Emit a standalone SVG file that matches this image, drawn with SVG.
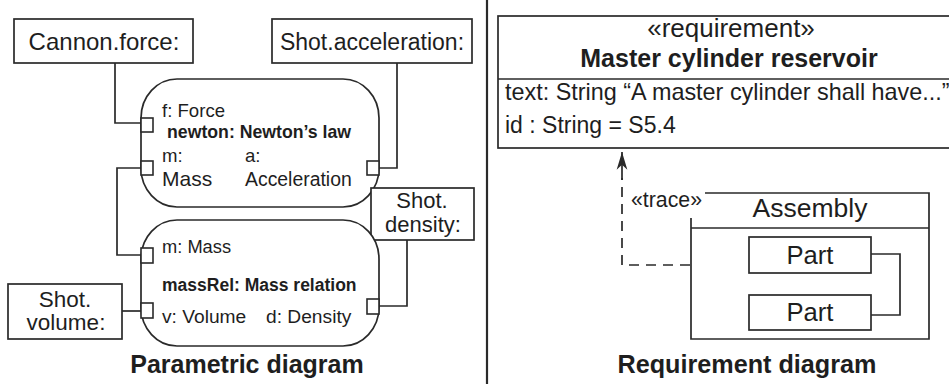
<svg xmlns="http://www.w3.org/2000/svg" width="949" height="384" viewBox="0 0 949 384">
  <defs>
    <style>
      .ln { fill: none; stroke: #2a2a2a; stroke-width: 1.7; }
      .box { fill: #ffffff; stroke: #2a2a2a; stroke-width: 1.7; }
      .port { fill: #ffffff; stroke: #2a2a2a; stroke-width: 1.6; }
      text { font-family: 'Liberation Sans', Arial, sans-serif; fill: #1e1e1e; }
      .c { text-anchor: middle; }
      .b { font-weight: bold; }
      .dash { fill: none; stroke: #2a2a2a; stroke-width: 1.7; stroke-dasharray: 10 7; }
    </style>
    <marker id="arrowHead" markerWidth="20" markerHeight="20" refX="0" refY="0" viewBox="-26 -9 28 18" orient="auto" markerUnits="userSpaceOnUse">
      <path d="M0,0 L-25,-7.5 L-18,0 L-25,7.5 Z" fill="#2a2a2a"/>
    </marker>
  </defs>

  <rect width="949" height="384" fill="#ffffff"/>

  <!-- panel divider -->
  <line x1="487" y1="0" x2="487" y2="384" stroke="#2a2a2a" stroke-width="2.2"/>

  <g id="connectors">
    <path class="ln" d="M115,63 V123 H141"/>
    <path class="ln" d="M141,168 H117 V255 H141"/>
    <path class="ln" d="M379,168 H397 V63"/>
    <path class="ln" d="M122,311 H141"/>
    <path class="ln" d="M379,306 H407 V240"/>
    <path class="ln" d="M871,254 H900 V315 H871"/>
    <path class="dash" d="M690,265 H622 V178"/>
    <path class="ln" d="M622,180 V152" marker-end="url(#arrowHead)"/>
  </g>

  <!-- ===== Parametric diagram ===== -->
  <g id="cannon-force">
    <rect class="box" x="14" y="19" width="179" height="44"/>
    <text class="c" x="104" y="50" font-size="24">Cannon.force:</text>
  </g>

  <g id="shot-acceleration">
    <rect class="box" x="272" y="19" width="200" height="44"/>
    <text class="c" x="372" y="50" font-size="23">Shot.acceleration:</text>
  </g>

  <g id="newton">
    <rect class="box" x="141" y="79" width="238" height="128" rx="36" ry="39"/>
    <rect class="port" x="141" y="118" width="12" height="14"/>
    <rect class="port" x="141" y="161" width="12" height="14"/>
    <rect class="port" x="367" y="161" width="12" height="14"/>
    <text x="162" y="117" font-size="18.6">f: Force</text>
    <text class="b" x="167" y="138" font-size="17.7">newton: Newton’s law</text>
    <text x="162" y="162" font-size="18.6">m:</text>
    <text x="245" y="162" font-size="18.6">a:</text>
    <text x="162" y="186" font-size="21">Mass</text>
    <text x="245" y="186" font-size="19.4">Acceleration</text>
  </g>

  <g id="shot-density">
    <rect class="box" x="371" y="188" width="103" height="52"/>
    <text class="c" x="422" y="208" font-size="22">Shot.</text>
    <text class="c" x="423" y="232" font-size="22">density:</text>
  </g>

  <g id="mass-relation">
    <rect class="box" x="141" y="220" width="238" height="126" rx="36" ry="39"/>
    <rect class="port" x="141" y="248" width="12" height="15"/>
    <rect class="port" x="141" y="303" width="12" height="15"/>
    <rect class="port" x="367" y="299" width="12" height="15"/>
    <text x="162" y="253" font-size="18.3">m: Mass</text>
    <text class="b" x="162" y="291" font-size="17.5">massRel: Mass relation</text>
    <text x="162" y="323" font-size="19.2">v: Volume</text>
    <text x="266" y="323" font-size="19.2">d: Density</text>
  </g>

  <g id="shot-volume">
    <rect class="box" x="8" y="284" width="114" height="55"/>
    <text class="c" x="65" y="307" font-size="22.5">Shot.</text>
    <text class="c" x="66" y="330" font-size="22.5">volume:</text>
  </g>

  <text class="c b" x="247" y="373" font-size="25">Parametric diagram</text>

  <!-- ===== Requirement diagram ===== -->
  <g id="requirement">
    <rect class="box" x="498" y="16" width="470" height="132"/>
    <line class="ln" x1="498" y1="79" x2="968" y2="79"/>
    <text class="c" x="731" y="37" font-size="26">«requirement»</text>
    <text class="c b" x="729" y="67" font-size="25">Master cylinder reservoir</text>
    <text x="505" y="100" font-size="23.4">text: String “A master cylinder shall have...”</text>
    <text x="505" y="133" font-size="23">id : String = S5.4</text>
  </g>

  <g id="assembly">
    <path class="ln" d="M705,193 H929 V339 H691 V218"/>
    <line class="ln" x1="691" y1="228" x2="929" y2="228"/>
    <text class="c" x="810" y="217" font-size="26.5">Assembly</text>
    <text x="631" y="207" font-size="21.3">«trace»</text>
  </g>

  <g id="part-1">
    <rect class="box" x="749" y="237" width="122" height="36"/>
    <text class="c" x="810" y="264" font-size="25.6">Part</text>
  </g>

  <g id="part-2">
    <rect class="box" x="749" y="295" width="122" height="35"/>
    <text class="c" x="810" y="321" font-size="25.6">Part</text>
  </g>

  <text class="c b" x="747" y="373" font-size="25.2">Requirement diagram</text>
</svg>
